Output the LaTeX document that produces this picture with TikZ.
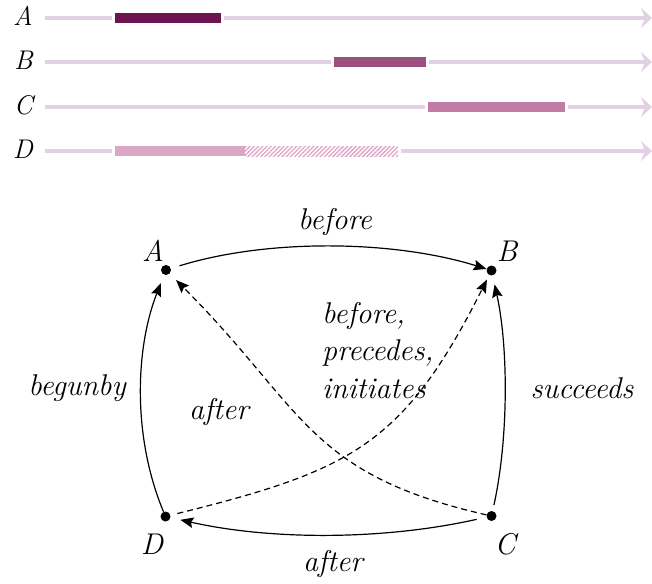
\documentclass[tikz,border=0pt]{standalone}
\usepackage{fontspec}
\usetikzlibrary{arrows.meta,patterns.meta}
\definecolor{tl}{RGB}{226,208,229}
\definecolor{barA}{RGB}{108,21,80}
\definecolor{barB}{RGB}{157,79,126}
\definecolor{barC}{RGB}{194,123,167}
\definecolor{barD}{RGB}{220,166,197}
\begin{document}
\begin{tikzpicture}[x=1pt,y=-1pt,
  tline/.style={draw=tl, line width=3.3pt, -{Stealth[length=11pt,width=20pt,inset=4pt]}},
  gap/.style={fill=white},
  rowlbl/.style={font=\fontsize{27}{30}\selectfont\itshape, anchor=base east, inner sep=0pt},
  lbl/.style={font=\fontsize{30}{37.5}\selectfont\itshape, inner sep=0pt},
  dot/.style={circle, fill=black, inner sep=0pt, minimum size=10pt},
  edge/.style={draw=black, line width=1.2pt, -{Stealth[length=13pt,width=10.5pt,inset=2pt]}},
  dedge/.style={edge, dash pattern=on 6pt off 4pt}]
\useasboundingbox (0,0) rectangle (652,583);
% ---------- timelines ----------
\foreach \y/\n in {18/A,62/B,107/C,151/D}{
  \draw[tline] (45,\y) -- (652,\y);
  \node[rowlbl] (row\n) at (33,\y+7.5) {\n};
}
% A
\fill[gap] (112,12) rectangle (224,24);
\fill[barA] (115,13) rectangle (221,23);
% B
\fill[gap] (331,56) rectangle (429,68);
\fill[barB] (334,57) rectangle (426,67);
% C
\fill[gap] (425,101) rectangle (568,113);
\fill[barC] (428,102) rectangle (565,112);
% D
\fill[gap] (112,145) rectangle (401,157);
\fill[barD] (115,146) rectangle (245,156);
\fill[pattern={Lines[angle=45,distance=3pt,line width=1.3pt]}, pattern color=barD] (245,146) rectangle (398,156);
% ---------- graph ----------
\node[dot] (A) at (166,270) {};
\node[dot] (B) at (491.5,270.5) {};
\node[dot] (C) at (491.5,516) {};
\node[dot] (D) at (165.5,516.5) {};
\node[lbl] (lA) at (153,251) {A};
\node[lbl] (lB) at (507,251) {B};
\node[lbl] (lD) at (152,544) {D};
\node[lbl] (lC) at (505,544) {C};

\draw[edge, shorten <=9pt, shorten >=0pt] (A) .. controls +(100,-31) and +(-100,-31) .. (B);
\draw[edge, shorten <=10pt, shorten >=10pt] (C) .. controls +(-107,24) and +(107,24) .. (D);
\draw[edge, shorten <=0pt, shorten >=9pt] (D) .. controls +(-33,-79) and +(-31,79) .. (A);
\draw[edge, shorten <=6pt, shorten >=9pt] (C) .. controls +(17,-77) and +(17,77) .. (B);
\draw[dedge, shorten <=0pt, shorten >=9pt] (C) .. controls +(-185,-42) and +(138,138) .. (A);
\draw[dedge, shorten <=7pt, shorten >=5pt] (D) .. controls +(185,-46) and +(-88,175) .. (B);

\node[lbl] (eAB) at (335,222) {before};
\node[lbl] (eCD) at (333,564) {after};
\node[lbl] (eDA) at (77,388) {begunby};
\node[lbl] (eCB) at (582,388) {succeeds};
\node[lbl] (eCA) at (219,412) {after};
\node[lbl, align=left, anchor=north west] (eDB) at (322,302) {before,\\precedes,\\initiates};
\end{tikzpicture}
\end{document}
